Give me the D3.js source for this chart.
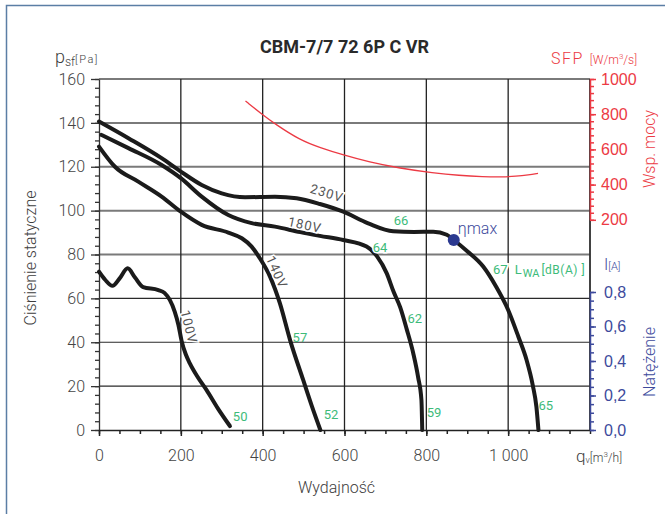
<!DOCTYPE html>
<html>
<head>
<meta charset="utf-8">
<script src="https://cdn.jsdelivr.net/npm/d3@7"></script>
<style>
    body { margin: 0; background: #fff; }
    svg { display: block; font-family: Roboto, "DejaVu Sans", sans-serif; }
</style>
</head>
<body>
<div id="chart"></div>
<script>
// Fan curves, points are [q m3/h, psf Pa]
var curve_230 = [[0, 140.6], [72, 133], [153, 123.9], [200, 117.8], [251, 111.7], [300, 107.9], [357, 106.1],
    [430, 106.3], [483, 105.6], [540, 103], [597, 99.5], [658, 94.2], [719, 90.6], [770, 90.3], [817, 90.4],
    [850, 89], [867, 86.6], [900, 81.5], [939, 74.5], [970, 65.5], [1000, 54.7], [1025, 42.5], [1045, 31.9],
    [1060, 20.5], [1069, 10.6], [1074, 0]];
var curve_180 = [[6, 134.5], [72, 128.5], [153, 120.8], [200, 114.8], [251, 106.4], [316, 98], [373, 94.3],
    [430, 92.7], [492, 90.2], [540, 88.5], [597, 86.6], [654, 83.6], [680, 79], [703, 71.5], [720, 63],
    [736, 56], [752, 46], [768, 35], [780, 24], [788, 13.7], [790, 0]];
var curve_140 = [[0, 129.2], [39, 120], [96, 113.2], [153, 106.4], [200, 99.5], [251, 93.5], [316, 90],
    [349, 87.4], [373, 83.6], [393, 78.3], [418, 69.9], [442, 57.8], [467, 41], [499, 22.8], [520, 11], [541, 0]];
var curve_100 = [[0, 72.2], [15, 68.5], [33, 65.7], [50, 69], [70, 73.7], [88, 69.5], [108, 65.1], [145, 63.8],
    [160, 62.5], [173, 59.3], [185, 54], [194, 48], [202, 40.5], [212, 34.5], [222, 30.4], [240, 24.5],
    [263, 18.2], [290, 10], [320, 1.8]];

// SFP curve, [q m3/h, W/m3/s]
var sfp_curve = [[358, 875], [401, 795], [430, 745], [491, 653], [540, 610], [597, 568], [660, 528],
    [735, 493], [817, 466], [880, 452], [940, 445], [980, 443], [1020, 447], [1050, 455], [1073, 464]];

var eta_max = [867, 86.6];

// Tick values
var p_ticks   = [0, 20, 40, 60, 80, 100, 120, 140, 160];
var q_ticks   = [0, 200, 400, 600, 800, 1000];
var sfp_ticks = [200, 400, 600, 800, 1000];
var amp_ticks = [0, 0.2, 0.4, 0.6, 0.8];

// Labels on the curves (anchored in data units)
var volt_labels  = [['230V', 557, 108, 17], ['180V', 503, 93.5, 12], ['140V', 435, 72, 66], ['100V', 220, 47, 76]];
var noise_labels = [['66', 738, 95.3], ['64', 687, 83], ['62', 772, 51], ['59', 819, 8.2], ['65', 1092, 11],
    ['57', 491, 42.4], ['52', 567, 7.3], ['50', 345, 6]];

function generate_graph() {
    var width  = 665;
    var height = 514;

    var left = 99, right = 590, top = 79, bottom = 430;

    var curve_color = '#1b1b1b';
    var red   = '#ec3a44';
    var blue  = '#3d4a9c';
    var green = '#3dbb7a';
    var text_color = '#3d3d3d';

    var svg = d3.select('#chart')
        .append('svg')
        .attr('width', width)
        .attr('height', height);

    // outer frame
    svg.append('rect')
        .attr('x', 6.5).attr('y', 5.5)
        .attr('width', 700).attr('height', 600)
        .attr('fill', 'none')
        .attr('stroke', '#5b7ea5')
        .attr('stroke-width', 1.5);

    // Scales
    var x = d3.scaleLinear().domain([0, 1200]).range([left, right]);
    var y = d3.scaleLinear().domain([0, 160]).range([bottom, top]);
    var y_sfp = d3.scaleLinear().domain([200, 1000]).range([219.8, top]);
    var y_amp = d3.scaleLinear().domain([0, 0.8]).range([bottom, 292]);

    // Grid
    svg.append('g').selectAll('line')
        .data(d3.range(20, 161, 20))
        .enter().append('line')
        .attr('x1', left).attr('x2', right)
        .attr('y1', function(d) { return y(d); })
        .attr('y2', function(d) { return y(d); })
        .attr('stroke', function(d) { return d >= 80 ? '#7a7a7a' : '#2a2a2a'; })
        .attr('stroke-width', function(d) { return d >= 80 ? 2 : 1.2; });

    svg.append('g').selectAll('line')
        .data(d3.range(200, 1201, 200))
        .enter().append('line')
        .attr('y1', top).attr('y2', bottom)
        .attr('x1', function(d) { return x(d); })
        .attr('x2', function(d) { return x(d); })
        .attr('stroke', '#222')
        .attr('stroke-width', 1.3);

    // Left axis
    svg.append('g')
        .attr('transform', 'translate(' + left + ',0)')
        .call(d3.axisLeft(y).tickValues(d3.range(0, 161, 4)).tickSize(4).tickSizeOuter(0).tickFormat(''))
        .call(function(g) { g.selectAll('line, path').attr('stroke', '#333').attr('stroke-width', 1.3); });

    var left_axis = svg.append('g')
        .attr('transform', 'translate(' + left + ',0)')
        .call(d3.axisLeft(y).tickValues(p_ticks).tickSize(8).tickSizeOuter(0).tickPadding(6));
    left_axis.select('.domain').remove();
    left_axis.selectAll('line').attr('stroke', '#333').attr('stroke-width', 1.3);

    // Bottom axis
    svg.append('g')
        .attr('transform', 'translate(0,' + bottom + ')')
        .call(d3.axisBottom(x).tickValues(d3.range(0, 1201, 50)).tickSize(4).tickSizeOuter(0).tickFormat(''))
        .call(function(g) { g.selectAll('line, path').attr('stroke', '#222').attr('stroke-width', 1.5); });

    var bottom_axis = svg.append('g')
        .attr('transform', 'translate(0,' + bottom + ')')
        .call(d3.axisBottom(x).tickValues(q_ticks).tickSize(6).tickSizeOuter(0).tickPadding(14)
            .tickFormat(function(d) { return d >= 1000 ? d3.format(',')(d).replace(',', ' ') : d; }));
    bottom_axis.select('.domain').remove();
    bottom_axis.selectAll('line').attr('stroke', '#222').attr('stroke-width', 1.5);

    [left_axis, bottom_axis].forEach(function(g) {
        g.selectAll('text')
            .attr('font-size', 16)
            .attr('font-weight', 300)
            .attr('font-family', 'Roboto, sans-serif')
            .attr('fill', '#444');
    });

    // right edge of plot
    svg.append('line')
        .attr('x1', right).attr('x2', right)
        .attr('y1', top).attr('y2', bottom)
        .attr('stroke', '#333').attr('stroke-width', 1.5);

    // SFP axis (red)
    var sfp_minor = svg.append('g')
        .attr('transform', 'translate(' + right + ',0)')
        .call(d3.axisRight(y_sfp).tickValues(d3.range(200, 1001, 40)).tickSize(4).tickSizeOuter(0).tickFormat(''));
    sfp_minor.selectAll('line, path').attr('stroke', red).attr('stroke-width', 1.5);

    var sfp_axis = svg.append('g')
        .attr('transform', 'translate(' + right + ',0)')
        .call(d3.axisRight(y_sfp).tickValues(sfp_ticks).tickSize(6).tickSizeOuter(0).tickPadding(5)
            .tickFormat(d3.format('d')));
    sfp_axis.select('.domain').remove();
    sfp_axis.selectAll('line').attr('stroke', red).attr('stroke-width', 1.5);
    sfp_axis.selectAll('text').attr('font-size', 16).attr('font-weight', 300).attr('fill', red);

    // Current axis (blue)
    var amp_minor = svg.append('g')
        .attr('transform', 'translate(' + right + ',0)')
        .call(d3.axisRight(y_amp).tickValues(d3.range(0, 0.81, 0.05)).tickSize(4).tickSizeOuter(0).tickFormat(''));
    amp_minor.selectAll('line, path').attr('stroke', blue).attr('stroke-width', 1.5);

    var amp_axis = svg.append('g')
        .attr('transform', 'translate(' + right + ',0)')
        .call(d3.axisRight(y_amp).tickValues(amp_ticks).tickSize(6).tickSizeOuter(0).tickPadding(8)
            .tickFormat(function(d) { return d3.format('.1f')(d).replace('.', ','); }));
    amp_axis.select('.domain').remove();
    amp_axis.selectAll('line').attr('stroke', blue).attr('stroke-width', 1.5);
    amp_axis.selectAll('text').attr('font-size', 16).attr('font-weight', 300).attr('fill', blue);

    // Curves
    var line = d3.line()
        .x(function(d) { return x(d[0]); })
        .y(function(d) { return y(d[1]); })
        .curve(d3.curveMonotoneX);

    [curve_230, curve_180, curve_140, curve_100].forEach(function(c) {
        svg.append('path')
            .datum(c)
            .attr('d', line)
            .attr('fill', 'none')
            .attr('stroke', curve_color)
            .attr('stroke-width', 4)
            .attr('stroke-linecap', 'round')
            .attr('stroke-linejoin', 'round');
    });

    var sfp_line = d3.line()
        .x(function(d) { return x(d[0]); })
        .y(function(d) { return y_sfp(d[1]); })
        .curve(d3.curveBasis);

    svg.append('path')
        .datum(sfp_curve)
        .attr('d', sfp_line)
        .attr('fill', 'none')
        .attr('stroke', red)
        .attr('stroke-width', 1.3);

    // voltage labels
    svg.append('g').selectAll('text')
        .data(volt_labels)
        .enter().append('text')
        .attr('transform', function(d) {
            return 'translate(' + x(d[1]) + ',' + y(d[2]) + ') rotate(' + d[3] + ')';
        })
        .attr('text-anchor', 'middle')
        .attr('dy', '0.35em')
        .attr('font-size', 13)
        .attr('letter-spacing', 1)
        .attr('fill', '#555')
        .attr('stroke', '#fff')
        .attr('stroke-width', 3)
        .attr('paint-order', 'stroke')
        .text(function(d) { return d[0]; });

    // noise labels
    svg.append('g').selectAll('text')
        .data(noise_labels)
        .enter().append('text')
        .attr('x', function(d) { return x(d[1]); })
        .attr('y', function(d) { return y(d[2]); })
        .attr('text-anchor', 'middle')
        .attr('dy', '0.35em')
        .attr('font-size', 13)
        .attr('fill', green)
        .attr('stroke', function(d) { return d[0] === '64' ? '#fff' : 'none'; })
        .attr('stroke-width', 3)
        .attr('paint-order', 'stroke')
        .text(function(d) { return d[0]; });

    // L_WA label
    var lwa = svg.append('text')
        .attr('x', x(963)).attr('y', y(73))
        .attr('dy', '0.35em')
        .attr('font-size', 13)
        .attr('fill', green)
        .attr('stroke', '#fff')
        .attr('stroke-width', 4)
        .attr('paint-order', 'stroke');
    lwa.append('tspan').text('67');
    lwa.append('tspan').attr('dx', 7).text('L');
    lwa.append('tspan').attr('font-size', 11).attr('dy', 3).attr('dx', 1).text('WA');
    lwa.append('tspan').attr('font-size', 12).attr('dy', -3).attr('dx', 2).attr('letter-spacing', 0.5).text('[dB(A) ]');

    // eta max point
    svg.append('circle')
        .attr('cx', x(eta_max[0]))
        .attr('cy', y(eta_max[1]))
        .attr('r', 6)
        .attr('fill', '#2b3990');
    svg.append('text')
        .attr('x', x(eta_max[0]) + 4)
        .attr('y', y(eta_max[1]) - 6)
        .attr('font-size', 16)
        .attr('font-weight', 300)
        .attr('fill', blue)
        .text('\u03b7max');

    // Title
    svg.append('text')
        .attr('x', (left + right) / 2)
        .attr('y', 53)
        .attr('text-anchor', 'middle')
        .attr('font-size', 18)
        .attr('font-weight', 700)
        .attr('fill', '#2a2a2a')
        .text('CBM-7/7 72 6P C VR');

    // Axis titles
    var psf = svg.append('text').attr('x', 55).attr('y', 63).attr('fill', text_color).attr('font-weight', 300);
    psf.append('tspan').attr('font-size', 18).text('p');
    psf.append('tspan').attr('font-size', 12).attr('dy', 3).text('sf');
    psf.append('tspan').attr('font-size', 11).attr('dy', -3).attr('letter-spacing', 1.5).text('[Pa]');

    var qv = svg.append('text').attr('x', 576).attr('y', 462).attr('fill', text_color).attr('font-weight', 300);
    qv.append('tspan').attr('font-size', 17).text('q');
    qv.append('tspan').attr('font-size', 9).attr('dy', 1).text('v');
    qv.append('tspan').attr('font-size', 12).attr('dy', -1).text('[m');
    qv.append('tspan').attr('font-size', 8).attr('dy', -5).text('3');
    qv.append('tspan').attr('font-size', 12).attr('dy', 5).text('/h]');

    var sfp_title = svg.append('text').attr('x', 551).attr('y', 64).attr('fill', red).attr('font-weight', 300);
    sfp_title.append('tspan').attr('font-size', 16).attr('letter-spacing', 1.5).text('SFP');
    sfp_title.append('tspan').attr('font-size', 12).attr('dx', 6).text('[W/m');
    sfp_title.append('tspan').attr('font-size', 8).attr('dy', -5).text('3');
    sfp_title.append('tspan').attr('font-size', 12).attr('dy', 5).text('/s]');

    var amp_title = svg.append('text').attr('x', 604).attr('y', 270).attr('fill', blue).attr('font-weight', 300);
    amp_title.append('tspan').attr('font-size', 16).text('I');
    amp_title.append('tspan').attr('font-size', 11).text('[A]');

    svg.append('text')
        .attr('transform', 'translate(36,258) rotate(-90)')
        .attr('text-anchor', 'middle')
        .attr('font-size', 16)
        .attr('font-weight', 300)
        .attr('fill', text_color)
        .text('Ciśnienie statyczne');

    svg.append('text')
        .attr('x', (left + right) / 2 - 8)
        .attr('y', 493)
        .attr('text-anchor', 'middle')
        .attr('font-size', 16)
        .attr('font-weight', 300)
        .attr('fill', text_color)
        .text('Wydajność');

    svg.append('text')
        .attr('transform', 'translate(655,149) rotate(-90)')
        .attr('text-anchor', 'middle')
        .attr('font-size', 16)
        .attr('font-weight', 300)
        .attr('fill', red)
        .text('Wsp. mocy');

    svg.append('text')
        .attr('transform', 'translate(655,362) rotate(-90)')
        .attr('text-anchor', 'middle')
        .attr('font-size', 16)
        .attr('font-weight', 300)
        .attr('fill', blue)
        .text('Natężenie');
}

generate_graph();
</script>
</body>
</html>
